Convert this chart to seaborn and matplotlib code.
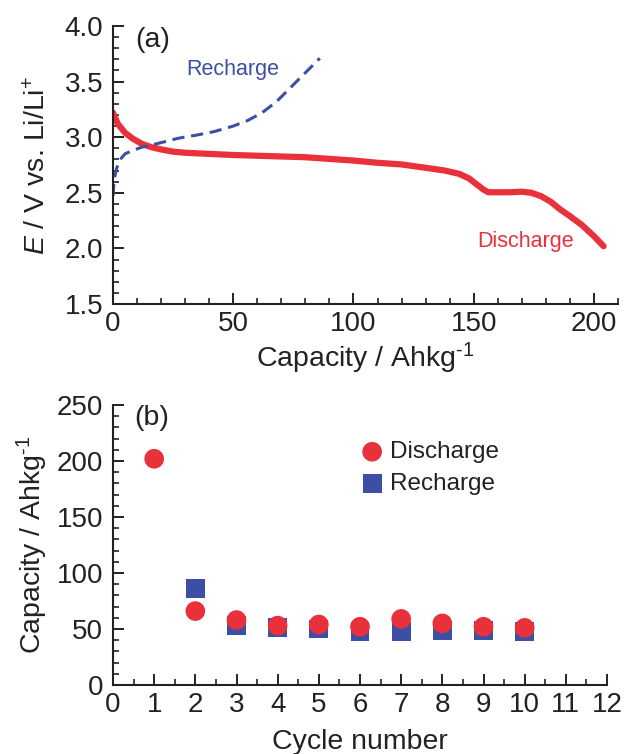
import numpy as np
import pandas as pd
import matplotlib
matplotlib.use("Agg")
import matplotlib.pyplot as plt
import seaborn as sns
from matplotlib.ticker import MultipleLocator

# ---- data: panel (a) ----
dis_cap = [0, 2, 5, 8, 12, 16, 20, 25, 30, 40, 50, 65, 80, 100, 110, 120, 130, 138,
           144, 148, 151, 154, 156, 160, 165, 170, 174, 178, 182, 186, 190, 195, 200, 204]
dis_v = [3.22, 3.12, 3.04, 2.99, 2.94, 2.91, 2.89, 2.87, 2.86, 2.85, 2.84, 2.83, 2.82,
         2.79, 2.77, 2.755, 2.725, 2.70, 2.67, 2.63, 2.58, 2.53, 2.505, 2.505, 2.505,
         2.51, 2.50, 2.47, 2.42, 2.35, 2.29, 2.21, 2.11, 2.02]
rec_cap = [0, 0.5, 1.5, 3, 5, 8, 12, 18, 27, 35, 42, 50, 56, 62, 68, 74, 80, 86]
rec_v = [2.47, 2.62, 2.72, 2.80, 2.85, 2.88, 2.91, 2.94, 2.99, 3.02, 3.05, 3.10, 3.15,
         3.22, 3.32, 3.45, 3.58, 3.71]

# ---- data: panel (b) ----
cycles = [1, 2, 3, 4, 5, 6, 7, 8, 9, 10]
dis_capacity = [202, 66, 58, 53, 54, 52, 59, 55, 52, 51]
rec_cycles = [2, 3, 4, 5, 6, 7, 8, 9, 10]
rec_capacity = [86, 53, 51, 50, 48, 48, 49, 49, 48]

RED = "#e8313a"
BLUE = "#3d4fa5"
INK = "#222222"

sns.set_theme(style="ticks")
plt.rcParams["font.family"] = ["Liberation Sans", "DejaVu Sans"]
plt.rcParams["mathtext.fontset"] = "custom"
plt.rcParams["mathtext.rm"] = "Liberation Sans"
plt.rcParams["mathtext.it"] = "Liberation Sans:italic"

fig = plt.figure(figsize=(6.26, 7.54), dpi=100)
ax1 = fig.add_axes([113/626, 1-304/754, 505/626, 278/754])
ax2 = fig.add_axes([113/626, 1-685/754, 494/626, 280/754])

TICK = 20
LAB = 20.5

def style(ax):
    for s in ["top", "right"]:
        ax.spines[s].set_visible(False)
    for s in ["left", "bottom"]:
        ax.spines[s].set_linewidth(1.5)
        ax.spines[s].set_color(INK)
    ax.tick_params(which="major", direction="in", length=8, width=1.4,
                   labelsize=TICK, colors=INK)
    ax.tick_params(which="minor", direction="in", length=4.5, width=1.2, colors=INK)
    ax.tick_params(axis="y", which="major", pad=7)
    ax.tick_params(axis="x", which="major", pad=5)

# panel (a)
df_d = pd.DataFrame({"cap": dis_cap, "v": dis_v})
df_r = pd.DataFrame({"cap": rec_cap, "v": rec_v})
sns.lineplot(data=df_d, x="cap", y="v", ax=ax1, color=RED, lw=4.5, estimator=None,
             solid_capstyle="round")
sns.lineplot(data=df_r, x="cap", y="v", ax=ax1, color=BLUE, lw=2.2, estimator=None,
             dashes=False, linestyle=(0, (4, 2.2)))
ax1.set_xlim(0, 210)
ax1.set_ylim(1.5, 4.0)
ax1.xaxis.set_major_locator(MultipleLocator(50))
ax1.xaxis.set_minor_locator(MultipleLocator(10))
ax1.yaxis.set_minor_locator(MultipleLocator(0.1))
ax1.set_yticks([1.5, 2.0, 2.5, 3.0, 3.5, 4.0])
ax1.set_yticklabels(["1.5", "2.0", "2.5", "3.0", "3.5", "4.0"])
style(ax1)
ax1.set_xlabel("Capacity / Ahkg$^{\u20101}$", fontsize=LAB, labelpad=3, color=INK)
ax1.set_ylabel("$E$ / V vs. Li/Li$^{+}$", fontsize=LAB, labelpad=10, color=INK)
ax1.text(0.044, 0.95, "(a)", transform=ax1.transAxes, fontsize=LAB, va="center",
         ha="left", color=INK)
ax1.text(50, 3.61, "Recharge", color=BLUE, fontsize=15.5, ha="center", va="center")
ax1.text(171.5, 2.06, "Discharge", color=RED, fontsize=15.5, ha="center", va="center")

# panel (b)
df_bd = pd.DataFrame({"cycle": cycles, "cap": dis_capacity})
df_br = pd.DataFrame({"cycle": rec_cycles, "cap": rec_capacity})
sns.scatterplot(data=df_br, x="cycle", y="cap", ax=ax2, marker="s", s=185, color=BLUE,
                edgecolor="none", label="Recharge", zorder=3)
sns.scatterplot(data=df_bd, x="cycle", y="cap", ax=ax2, marker="o", s=200, color=RED,
                edgecolor="none", label="Discharge", zorder=4)
ax2.set_xlim(0, 12)
ax2.set_ylim(0, 250)
ax2.xaxis.set_major_locator(MultipleLocator(1))
ax2.xaxis.set_minor_locator(MultipleLocator(0.5))
ax2.yaxis.set_major_locator(MultipleLocator(50))
ax2.yaxis.set_minor_locator(MultipleLocator(10))
style(ax2)
ax2.set_xlabel("Cycle number", fontsize=LAB, labelpad=8, color=INK)
ax2.set_ylabel("Capacity / Ahkg$^{\u20101}$", fontsize=LAB, labelpad=5, color=INK)
ax2.text(0.044, 0.955, "(b)", transform=ax2.transAxes, fontsize=LAB, va="center",
         ha="left", color=INK)
h, l = ax2.get_legend_handles_labels()
leg = ax2.legend([h[1], h[0]], [l[1], l[0]], loc="center left",
                 bbox_to_anchor=(0.5, 0.775), frameon=False, fontsize=17.5,
                 handletextpad=0.25, handlelength=1.0, borderaxespad=0, borderpad=0,
                 labelspacing=0.4)
for t in leg.get_texts():
    t.set_color(INK)

fig.savefig("out.png", dpi=100)
